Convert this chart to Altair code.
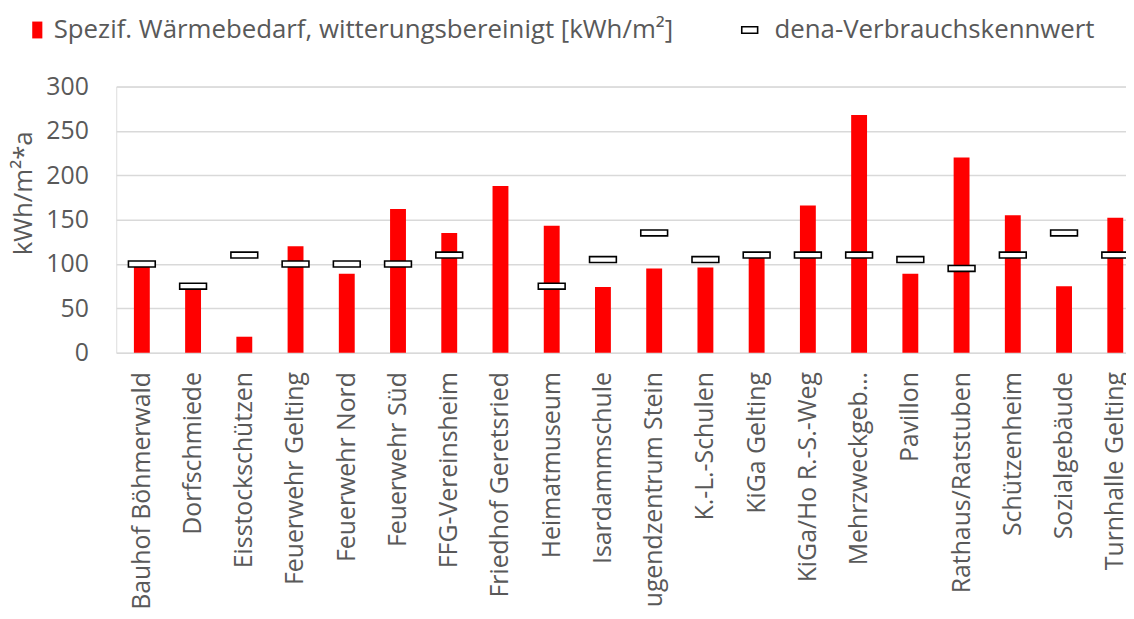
import altair as alt
import pandas as pd

categories = [
    "Bauhof Böhmerwald", "Dorfschmiede", "Eisstockschützen", "Feuerwehr Gelting",
    "Feuerwehr Nord", "Feuerwehr Süd", "FFG-Vereinsheim", "Friedhof Geretsried",
    "Heimatmuseum", "Isardammschule", "Jugendzentrum Stein", "K.-L.-Schulen",
    "KiGa Gelting", "KiGa/Ho R.-S.-Weg", "Mehrzweckgeb…", "Pavillon",
    "Rathaus/Ratstuben", "Schützenheim", "Sozialgebäude", "Turnhalle Gelting",
]
waermebedarf = [101, 72, 18, 120, 89, 162, 135, 188, 143, 74,
                95, 96, 112, 166, 268, 89, 220, 155, 75, 152]
dena = [100, 75, 110, 100, 100, 100, 110, None, 75, 105,
        135, 105, 110, 110, 110, 105, 95, 110, 135, 110]

series_bar = "Spezif. Wärmebedarf, witterungsbereinigt [kWh/m²]"
series_dena = "dena-Verbrauchskennwert"

df = pd.DataFrame({"Gebäude": categories, "Wert": waermebedarf, "dena": dena})
df["s1"] = series_bar
df["s2"] = series_dena

FONT = "Open Sans"
GRAY = "#595959"

x_enc = alt.X(
    "Gebäude:N", sort=categories, title=None,
    scale=alt.Scale(range=[0, 1032], paddingInner=0.0, paddingOuter=0.0),
    axis=alt.Axis(labelAngle=270, labelFontSize=25, labelFont=FONT, labelColor=GRAY,
                  labelPadding=19, ticks=False, domain=False, grid=False,
                  labelLimit=400, labelAlign="right", labelBaseline="middle"),
)

bars = alt.Chart(df).mark_bar(size=16).encode(
    x=x_enc,
    y=alt.Y("Wert:Q", scale=alt.Scale(domain=[0, 300], nice=False),
            axis=alt.Axis(values=[0, 50, 100, 150, 200, 250, 300], title="kWh/m²*a",
                          labelFontSize=25, labelFont=FONT, labelColor=GRAY,
                          labelPadding=28, ticks=False, domain=False,
                          gridColor="#D9D9D9", gridWidth=1.5,
                          titleFontSize=26, titleFont=FONT, titleColor=GRAY,
                          titleFontWeight="normal", titleAngle=270,
                          titleX=-93, titleY=107, titleAlign="center",
                          titleBaseline="middle")),
    color=alt.Color("s1:N", scale=alt.Scale(domain=[series_bar], range=["#FF0000"]),
                    legend=alt.Legend(orient="none", legendX=-92.5, legendY=-70,
                                      title=None, labelFontSize=26, labelFont=FONT,
                                      labelColor=GRAY, symbolType="M-0.6,-1H0.6V1H-0.6Z",
                                      symbolSize=289, labelOffset=3.5, padding=0,
                                      symbolStrokeWidth=0, labelLimit=800)),
)

markers = alt.Chart(df).transform_filter("isValid(datum.dena)").mark_point(
    shape="M-1,-0.22H1V0.22H-1Z", size=729, filled=False, fill="white",
    strokeWidth=1.6, opacity=1,
).encode(
    x=alt.X("Gebäude:N", sort=categories),
    y=alt.Y("dena:Q"),
    stroke=alt.Stroke("s2:N", scale=alt.Scale(domain=[series_dena], range=["#000000"]),
                      legend=alt.Legend(orient="none", legendX=625, legendY=-70,
                                        title=None, labelFontSize=26, labelFont=FONT,
                                        labelColor=GRAY, symbolType="M-1,-0.4H1V0.4H-1Z",
                                        symbolSize=256, symbolFillColor="white",
                                        symbolStrokeWidth=1.6, labelOffset=12,
                                        padding=0, labelLimit=800)),
)

chart = alt.layer(bars, markers).properties(
    width=1017, height=268,
    autosize=alt.AutoSizeParams(type="none"),
    padding={"left": 109, "top": 77, "right": 0, "bottom": 256},
).configure_view(stroke=None).configure(background="white")

chart.save("out.html", embed_options={"renderer": "svg", "actions": False})
